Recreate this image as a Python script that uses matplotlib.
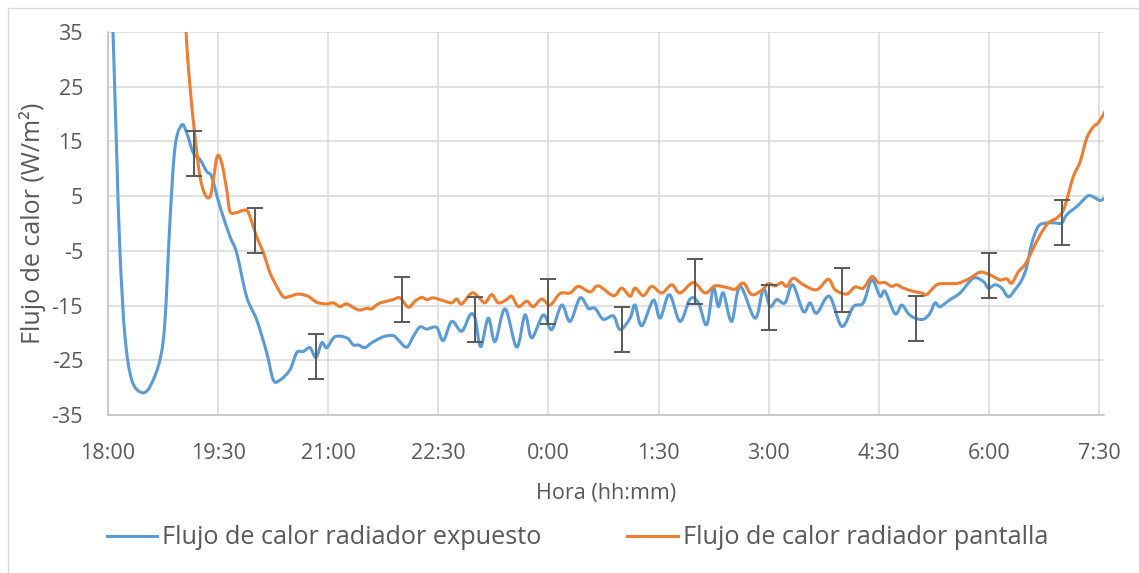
import numpy as np
import matplotlib.pyplot as plt
from matplotlib.lines import Line2D
from matplotlib.path import Path
from matplotlib.patches import PathPatch

# minutes after 18:00
t_expuesto = [2, 4.1, 7.1, 9.8, 13.9, 19.4, 27.5, 34.3, 42.5, 46.6, 50.7, 54.8, 60.2, 64.3,
              69.7, 75.2, 80.7, 84.8, 91.5, 99.7, 105.2, 113.3, 121.5, 129.7, 135.1, 140.6,
              148.8, 154.2, 159.6, 165.1, 170, 174.7, 178.8, 185.5, 195.1, 200.5, 204.6, 210,
              215.5, 225, 233.2, 237.3, 244.1, 249.6, 255, 260.5, 268.6, 274, 280.9, 289.1,
              295.9, 300, 304.6, 310.8, 316.3, 324.5, 334, 340.8, 346.3, 355.8, 362.6, 370.8,
              377.6, 385.8, 392.6, 398, 404.8, 413.1, 418.5, 426.7, 430.7, 436.2, 445.7, 451.2,
              458.8, 467.5, 475.7, 482.5, 489.3, 494.7, 498.8, 502.9, 509.7, 516.5, 528.8,
              535.6, 541.1, 546.5, 553.3, 559.6, 568.3, 573.8, 579.2, 589.5, 599.7, 609.2,
              617.3, 624.2, 631, 635, 643.3, 648.7, 654.2, 659.6, 666.4, 671.8, 675.9, 680,
              688.2, 696.4, 707.2, 715.4, 719.5, 725, 730.4, 735.9, 741.3, 746.8, 750.9, 755,
              760.4, 767.2, 774, 779.5, 783.5, 791.7, 795.8, 801.3, 806.7, 810.8, 814.9]
q_expuesto = [50, 35, 12.9, -5.3, -20.7, -28.6, -30.9, -29.8, -24.9, -17.6, 0.7, 14, 18, 16.6,
              12.9, 11.7, 9.5, 8.5, 3.1, -2.4, -5.4, -13.4, -17.6, -23.6, -28.6, -28.6,
              -26.7, -23.6, -23.4, -22.7, -24.5, -21.8, -22.7, -20.7, -20.9, -22.2, -22.2, -22.7,
              -21.8, -20.7, -20.5, -21.3, -22.6, -20.6, -18.9, -19.3, -19, -21.4, -17.9, -19.7,
              -16.7, -17.3, -22.5, -17.3, -21.6, -15.6, -22.6, -16.7, -20.9, -16.7, -19.4, -14.9,
              -17.9, -13.6, -15.5, -15.5, -17.5, -16.9, -19.4, -17.3, -14.9, -18.7, -14, -17.3,
              -13, -17.9, -13.8, -14.5, -18.5, -11.8, -15.2, -12.7, -17.9, -11.5, -17.3,
              -12, -15.2, -13.9, -14.5, -11.2, -16.1, -14.5, -16.4, -13.3, -18.8, -15.2,
              -14.5, -10.3, -13.3, -12.4, -16.5, -14.9, -16.5, -17.3, -17.5, -16.4, -14.5, -15.2,
              -13.9, -12.7, -10, -10.6, -11.8, -11.2, -11.8, -13.4, -12.1, -10.3, -7.9, -3.6,
              -0.5, 0.1, 0.1, 0.1, 1.6, 3.1, 4, 5.1, 4.7, 4.2, 4.7]

t_pantalla = [58, 63.8, 67, 71.1, 75.2, 79.3, 83.4, 86.1, 89.3, 92.9, 97, 99.7, 105.2, 110.6,
              114.7, 121.5, 126.9, 132.4, 137.9, 143.3, 148.8, 155.5, 163.5, 170.6, 178.8,
              184.2, 189.6, 195.1, 204.6, 211.4, 215.5, 220.7, 227.7, 233.2, 238.7, 245.5,
              250.9, 256.4, 260.5, 265.9, 274, 280.9, 285, 289.1, 297.3, 302.6, 308.1, 313.6,
              319, 325.9, 330, 335.4, 342.2, 347.6, 354.5, 361.3, 369.4, 377.6, 384.4, 394,
              400.8, 413.1, 419.9, 426.7, 430.8, 437.6, 444.4, 452.5, 460.7, 467.5, 478.4, 488,
              496.1, 505.7, 512.5, 519.3, 526.1, 534.3, 539.7, 545.2, 550.6, 554.7, 560.1,
              568.3, 579.2, 588.7, 594.2, 603.7, 610.5, 617.3, 624.2, 629.6, 635, 640.5, 644.6,
              650, 658.2, 665, 669.1, 677.3, 685.5, 695, 704.5, 712.7, 720.9, 729, 734.5, 738.6,
              744.1, 749.5, 755, 761.8, 768.5, 775.4, 780.3, 783.5, 789, 794.5, 799.9, 805.4,
              809.4, 814.9]
q_pantalla = [60, 35, 25.1, 15.9, 8.6, 5.3, 4.9, 8, 12.3, 11.1, 6.2, 2.2, 2, 2.4,
              2, -2.4, -5.3, -9, -11.5, -13.4, -13.3, -12.9, -13.3, -14.4, -14.7,
              -14.5, -15.2, -14.7, -15.8, -15.5, -15.6, -14.7, -14.2, -13.9, -13.6, -15.3,
              -14.2, -13.5, -13.9, -13.6, -14.1, -14.5, -13.8, -14.7, -12.7, -13.4, -14.5, -13,
              -14.5, -13.9, -13.3, -15.2, -14.2, -15.2, -13.8, -14.9, -12.8, -12.7, -11.5, -12.5,
              -11.4, -13.2, -11.8, -13.3, -11.8, -13.2, -11.5, -12.7, -11.2, -12.7, -10.8, -12.7,
              -11.4, -11.7, -12, -10.9, -13, -12.2, -11, -11.4, -10.8, -11.5, -10,
              -11.2, -12.1, -10.2, -12.1, -12.9, -11.6, -11.8, -9.7, -10.8, -10.8, -11.5, -11.2,
              -11.8, -12.4, -12.7, -13, -11.2, -11, -10.9, -10, -8.9, -9.4, -10.3, -10.1, -10.9,
              -8.8, -7.5, -5.1, -2.1, 0.1, 1, 2.2, 4.3, 8.6, 11.3, 15.6, 17.7,
              18.4, 20.5]

# error bars (±4.1 W/m2), alternating between series
eb_t_exp = [70, 170, 300, 420, 540, 660, 780]
eb_q_exp = [12.85, -24.35, -17.5, -19.45, -15.35, -17.3, 0.15]
eb_t_pan = [120, 240, 360, 480, 600, 720]
eb_q_pan = [-1.3, -13.9, -14.3, -10.6, -12.15, -9.5]
err = 4.1

tick_pos = [0, 90, 180, 270, 360, 450, 540, 630, 720, 810]
tick_lab = ['18:00', '19:30', '21:00', '22:30', '0:00', '1:30', '3:00', '4:30', '6:00', '7:30']

azul = '#5B9BD5'
naranja = '#ED7D31'
gris = '#595959'


def linea_suave(ax, x, y, color):
    # linea suavizada tipo Excel (Bezier con tangentes Catmull-Rom)
    p = np.column_stack([x, y]).astype(float)
    ext = np.vstack([p[0], p, p[-1]])
    verts = [p[0]]
    codes = [Path.MOVETO]
    for i in range(len(p) - 1):
        c1 = ext[i + 1] + (ext[i + 2] - ext[i]) / 6
        c2 = ext[i + 2] - (ext[i + 3] - ext[i + 1]) / 6
        verts += [c1, c2, ext[i + 2]]
        codes += [Path.CURVE4] * 3
    patch = PathPatch(Path(verts, codes), facecolor='none', edgecolor=color,
                      lw=2.2, capstyle='round', joinstyle='round', zorder=3)
    ax.add_patch(patch)


plt.rcParams['font.family'] = ['Open Sans', 'DejaVu Sans']
plt.rcParams['axes.unicode_minus'] = False

fig = plt.figure(figsize=(11.39, 5.73), dpi=100)
ax = fig.add_axes([108/1139, 1 - 415/573, (1104 - 108)/1139, (415 - 32)/573])

linea_suave(ax, t_expuesto, q_expuesto, azul)
linea_suave(ax, t_pantalla, q_pantalla, naranja)
ax.errorbar(eb_t_exp, eb_q_exp, yerr=err, fmt='none', ecolor=gris, elinewidth=1.4,
            capsize=6, capthick=1.4, zorder=4)
ax.errorbar(eb_t_pan, eb_q_pan, yerr=err, fmt='none', ecolor=gris, elinewidth=1.4,
            capsize=6, capthick=1.4, zorder=4)

ax.set_xlim(0, 814)
ax.set_ylim(-35, 35)
ax.set_yticks(np.arange(-35, 36, 10))
ax.set_xticks(tick_pos)
ax.set_xticklabels(tick_lab)
ax.grid(True, color='#D9D9D9', lw=1.1)
ax.set_axisbelow(True)
for s in ['top', 'right']:
    ax.spines[s].set_visible(False)
for s in ['left', 'bottom']:
    ax.spines[s].set_color('#BFBFBF')
    ax.spines[s].set_linewidth(1.1)
ax.tick_params(length=0, labelsize=15.5, colors=gris)
ax.tick_params(axis='y', pad=18)
ax.tick_params(axis='x', pad=20)

ax.set_xlabel('Hora (hh:mm)', fontsize=15.5, color=gris, labelpad=14)
ax.set_ylabel('Flujo de calor (W/m²)', fontsize=18, color=gris)
ax.yaxis.set_label_coords(-62/996, 0.5)

handles = [Line2D([], [], color=azul, lw=2.2), Line2D([], [], color=naranja, lw=2.2)]
fig.legend(handles, ['Flujo de calor radiador expuesto', 'Flujo de calor radiador pantalla'],
           loc='center', bbox_to_anchor=(0.507, 1 - 538/573), ncol=2, frameon=False,
           fontsize=18.2, labelcolor=gris, handlelength=2.0, handletextpad=0.2,
           columnspacing=3.4)

# borde del grafico (solo izquierda y arriba)
fig.add_artist(Line2D([8/1139, 8/1139], [0, 1 - 8/573], color='#D9D9D9', lw=1))
fig.add_artist(Line2D([8/1139, 1], [1 - 8/573, 1 - 8/573], color='#D9D9D9', lw=1))

fig.savefig('out.png', dpi=100)
